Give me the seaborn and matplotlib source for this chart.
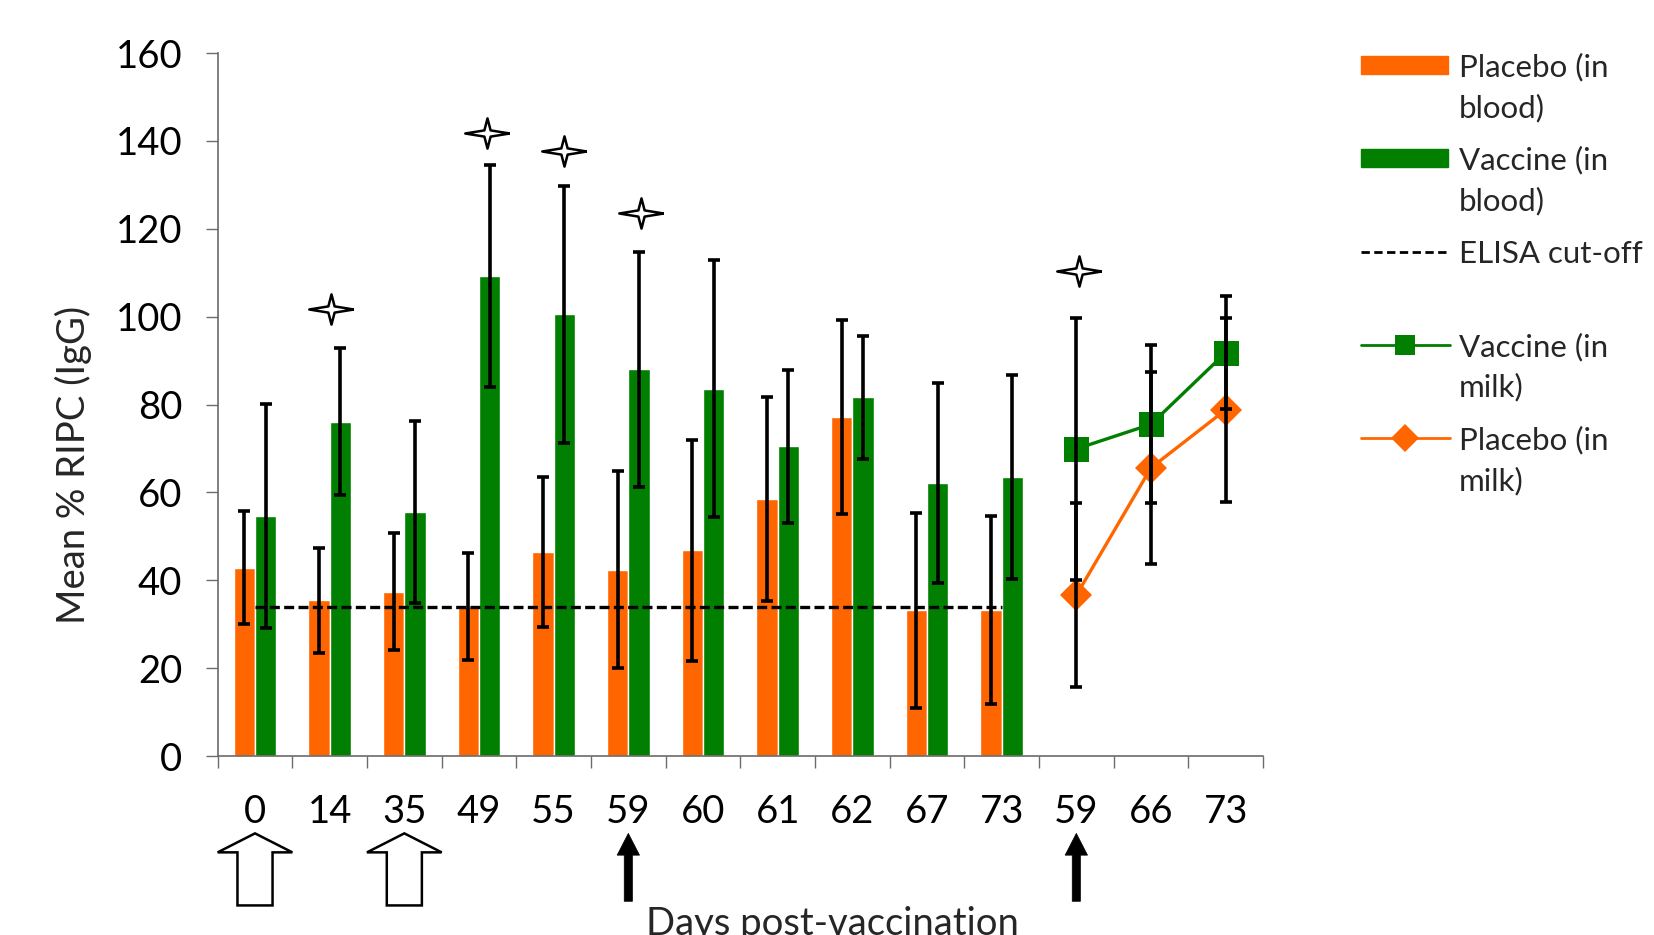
import numpy as np
import pandas as pd
import matplotlib
matplotlib.use("Agg")
import matplotlib.pyplot as plt
import matplotlib.patches as mpatches
import matplotlib.transforms as mtransforms
from matplotlib.lines import Line2D
from matplotlib.path import Path
import seaborn as sns

# data
day_labels = ['0', '14', '35', '49', '55', '59', '60', '61', '62', '67', '73', '59', '66', '73']
placebo_blood = [42.9, 35.4, 37.4, 34.1, 46.4, 42.4, 46.8, 58.4, 77.1, 33.2, 33.2]
placebo_blood_sd = [12.8, 12.0, 13.3, 12.2, 17.0, 22.4, 25.2, 23.2, 22.1, 22.2, 21.4]
vaccine_blood = [54.7, 76.1, 55.6, 109.2, 100.5, 88.0, 83.6, 70.5, 81.6, 62.2, 63.5]
vaccine_blood_sd = [25.5, 16.8, 20.7, 25.2, 29.3, 26.8, 29.3, 17.4, 14.1, 22.8, 23.3]
milk_pos = [11, 12, 13]
vaccine_milk = [69.9, 75.5, 91.8]
vaccine_milk_sd = [29.9, 18.0, 12.9]
placebo_milk = [36.6, 65.6, 78.8]
placebo_milk_sd = [20.9, 21.8, 20.9]
elisa_cutoff = 33.9
star_x = [1.02, 3.11, 4.14, 5.17, 11.04]
star_y = [101.7, 141.7, 137.6, 123.5, 110.3]
open_arrow_pos = [0, 2]
solid_arrow_pos = [5, 11]
legend_labels = ['Placebo (in\nblood)', 'Vaccine (in\nblood)', 'ELISA cut-off',
                 'Vaccine (in\nmilk)', 'Placebo (in\nmilk)']

orange = '#FF6600'
green = '#007F00'
axis_grey = '#6b6b6b'

sns.set_theme(style='white')
plt.rcParams['font.family'] = ['Lato', 'DejaVu Sans']

n_blood = len(placebo_blood)
blood = pd.DataFrame({
    'pos': list(range(n_blood)) * 2,
    'value': placebo_blood + vaccine_blood,
    'group': ['Placebo'] * n_blood + ['Vaccine'] * n_blood,
})

fig = plt.figure(figsize=(16.54, 9.35), dpi=100)
ax = fig.add_axes([0.1316, 0.1914, 0.632, 0.7519])

bar_w = 0.574
sns.barplot(data=blood, x='pos', y='value', hue='group', order=list(range(len(day_labels))),
            hue_order=['Placebo', 'Vaccine'], palette=[orange, green], width=bar_w,
            saturation=1, errorbar=None, legend=False, ax=ax, zorder=2)

# cut-off line
ax.plot([0, n_blood - 1], [elisa_cutoff, elisa_cutoff], color='black', lw=2.4,
        dashes=(3.0, 1.3), zorder=3)

err_kw = dict(fmt='none', ecolor='black', elinewidth=2.6, capsize=4.5, capthick=2.6, zorder=5)
xs = np.arange(n_blood)
ax.errorbar(xs - bar_w / 4, placebo_blood, yerr=placebo_blood_sd, **err_kw)
ax.errorbar(xs + bar_w / 4, vaccine_blood, yerr=vaccine_blood_sd, **err_kw)

# milk lines
sns.lineplot(x=milk_pos, y=vaccine_milk, color=green, lw=2.4, marker='s', markersize=18,
             markeredgecolor=green, markeredgewidth=0, ax=ax, zorder=4)
sns.lineplot(x=milk_pos, y=placebo_milk, color=orange, lw=2.4, marker='D', markersize=16,
             markeredgecolor=orange, markeredgewidth=0, ax=ax, zorder=4)
ax.errorbar(milk_pos, vaccine_milk, yerr=vaccine_milk_sd, **err_kw)
ax.errorbar(milk_pos, placebo_milk, yerr=placebo_milk_sd, **err_kw)

# significance stars
star_verts = [(1, 0), (0.14, 0.14), (0, 0.68), (-0.14, 0.14), (-1, 0), (-0.14, -0.14),
              (0, -0.68), (0.14, -0.14), (1, 0)]
star = Path(star_verts)
ax.plot(star_x, star_y, ls='none', marker=star, markersize=32, markerfacecolor='white',
        markeredgecolor='black', markeredgewidth=1.8, zorder=6, clip_on=False)

ax.set_xlim(-0.5, len(day_labels) - 0.5)
ax.set_ylim(0, 160)
ax.set_yticks(np.arange(0, 161, 20))
ax.set_xticks(range(len(day_labels)), labels=day_labels)
ax.set_xticks(np.arange(-0.5, len(day_labels), 1), minor=True)
ax.tick_params(axis='x', which='major', length=0, pad=27, labelsize=27.5, colors='black')
ax.tick_params(axis='x', which='minor', length=8.5, width=1, color=axis_grey, direction='out', bottom=True)
ax.tick_params(axis='y', length=8.5, width=1, color=axis_grey, direction='out', left=True,
               pad=17, labelsize=27.5, labelcolor='black')
ax.set_xlabel('')
ax.set_ylabel('Mean % RIPC (IgG)', fontsize=27.5)
ax.yaxis.set_label_coords(-0.12, 0.414)
for side in ['top', 'right']:
    ax.spines[side].set_visible(False)
for side in ['left', 'bottom']:
    ax.spines[side].set_color(axis_grey)
    ax.spines[side].set_linewidth(1.2)

# vaccination arrows below the axis
trans = mtransforms.blended_transform_factory(ax.transData, ax.transAxes)
for p in open_arrow_pos:
    ax.add_patch(mpatches.FancyArrow(p, -0.2125, 0, 0.1025, width=0.47, head_width=1.0,
                                     head_length=0.027, length_includes_head=True,
                                     facecolor='white', edgecolor='black', lw=1.8,
                                     transform=trans, clip_on=False))
for p in solid_arrow_pos:
    ax.add_patch(mpatches.FancyArrow(p, -0.2066, 0, 0.0966, width=0.11, head_width=0.30,
                                     head_length=0.031, length_includes_head=True,
                                     facecolor='black', edgecolor='black', lw=0.5,
                                     transform=trans, clip_on=False))

fig.text(0.503, 0.0, 'Days post-vaccination', ha='center', va='baseline', fontsize=27.5)

# legend, drawn by hand so the key lines up with the first line of each label
W, H = 1654, 935
hx0, hx1, tx = 1361 / W, 1448 / W, 1459 / W
for i, lab in enumerate(legend_labels):
    yc = 65 + i * 93.3
    y = 1 - yc / H
    if i < 2:
        fig.add_artist(mpatches.Rectangle((hx0, 1 - (yc + 9) / H), hx1 - hx0, 18 / H,
                                          color=[orange, green][i], transform=fig.transFigure))
    elif i == 2:
        fig.add_artist(Line2D([hx0, hx1 + 2 / W], [y, y], color='black', lw=2.0,
                              dashes=(3.0, 1.6), transform=fig.transFigure))
    else:
        c, m = (green, 's') if i == 3 else (orange, 'D')
        fig.add_artist(Line2D([hx0, hx1 + 2 / W], [y, y], color=c, lw=2.0,
                              transform=fig.transFigure))
        fig.add_artist(Line2D([(hx0 + hx1) / 2], [y], color=c, marker=m,
                              markersize=15 if m == 's' else 14, mew=0, transform=fig.transFigure))
    for j, line in enumerate(lab.split('\n')):
        fig.text(tx, 1 - (yc + 11.5 + j * 40.5) / H, line, ha='left', va='baseline', fontsize=22.5)

fig.savefig('out.png', dpi=100)
